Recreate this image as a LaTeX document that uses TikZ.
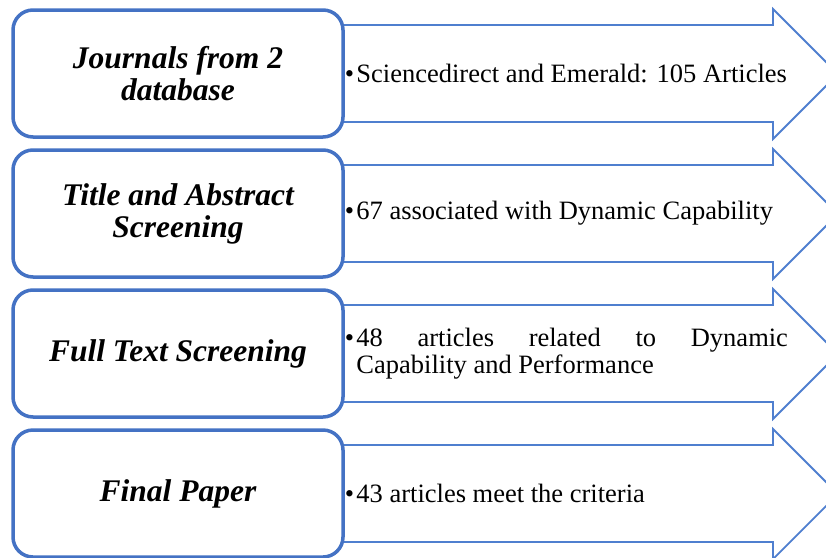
\documentclass[tikz,border=0pt]{standalone}
\usepackage{fontspec}
\setmainfont{Liberation Serif}
\usetikzlibrary{positioning}
\definecolor{boxblue}{HTML}{4472C4}
\definecolor{arrowblue}{HTML}{4F7FCF}
\newcommand{\bulletitem}[1]{\tolerance=10000 \hyphenpenalty=10000
    \hangindent=11.5pt \hangafter=1 \makebox[11.5pt][l]{\textbullet}#1\par}
\tikzset{
    stepbox/.style={draw=boxblue, line width=3.5pt, fill=white, rounded corners=20pt,
        minimum width=330pt, minimum height=127pt, align=center,
        font=\fontsize{31.5}{32}\selectfont\bfseries\itshape},
    flowarrow/.style={draw=arrowblue, line width=1.8pt, line join=miter, fill=white},
    itemtext/.style={inner sep=0pt, text width=443pt, align=justify,
        font=\fontsize{26.5}{27.5}\selectfont}
}
\begin{document}
\begin{tikzpicture}[x=1pt,y=-1pt]
    \useasboundingbox (0,0) rectangle (826,557);
    \clip (0,0) rectangle (826,557);

    % arrows behind the boxes
    \foreach \t in {10,150,290,430}
        \draw[flowarrow] (330,\t+15) -- (773,\t+15) -- (773,\t-1) -- (838,\t+64)
            -- (773,\t+129) -- (773,\t+112) -- (330,\t+112);

    \node[stepbox] (journals) at (178,73.5) {Journals from 2\\database};
    \node[stepbox] (abstract) at (178,213.5) {Title and Abstract\\Screening};
    \node[stepbox] (fulltext) at (178,353.5) {Full Text Screening};
    \node[stepbox] (final) at (178,493.5) {Final Paper};

    \node[itemtext, right=0pt of journals] (sources) {\bulletitem{Sciencedirect and Emerald: 105 Articles}};
    \node[itemtext, right=0pt of abstract] (associated) {\bulletitem{67 associated with Dynamic Capability}};
    \node[itemtext, right=0pt of fulltext] (related) {\bulletitem{48 articles related to Dynamic\linebreak Capability and Performance}};
    \node[itemtext, right=0pt of final] (criteria) {\bulletitem{43 articles meet the criteria}};
\end{tikzpicture}
\end{document}
